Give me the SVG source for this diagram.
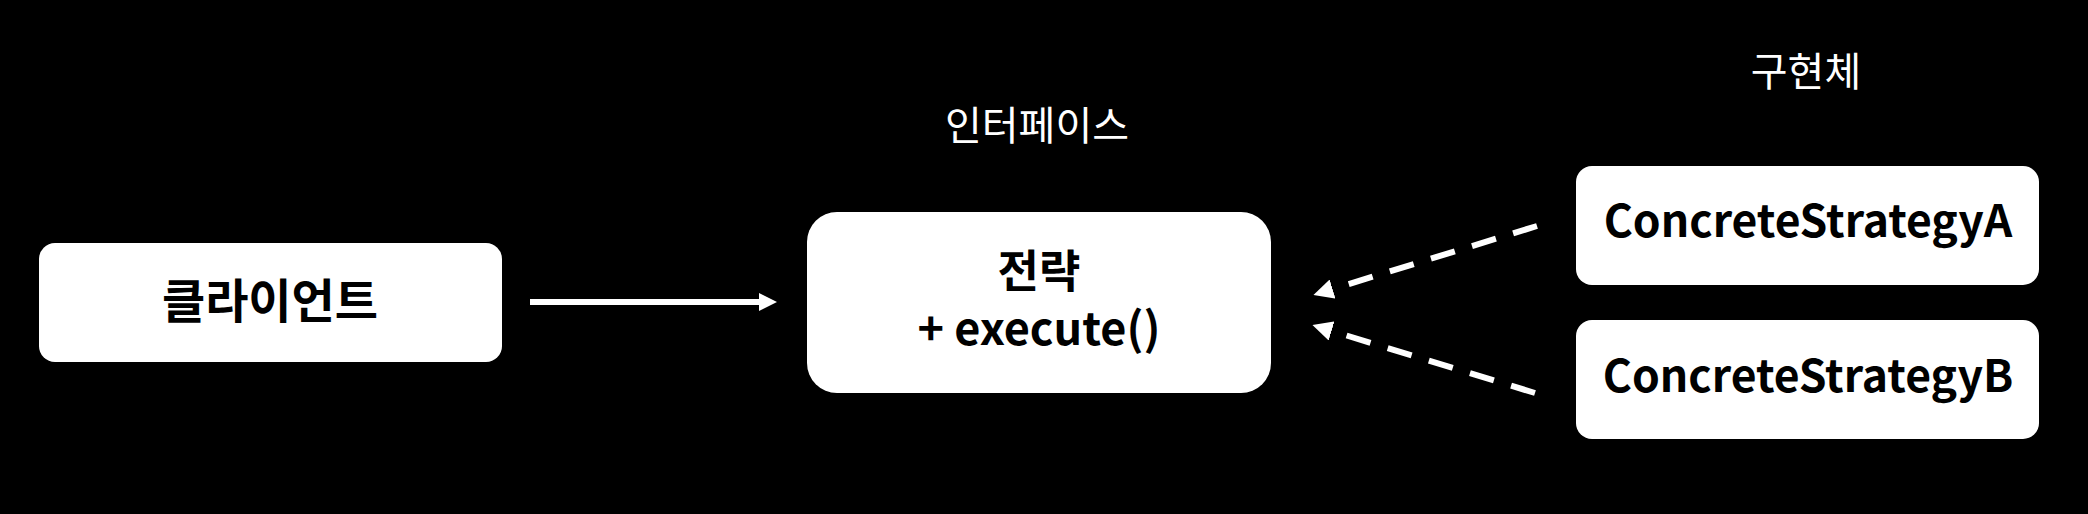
<svg xmlns="http://www.w3.org/2000/svg" width="2088" height="514" viewBox="0 0 2088 514">
<defs>
<style>
.box{fill:#ffffff;}
.t{font-family:"Noto Sans CJK KR","Noto Sans",sans-serif;font-weight:bold;fill:#000000;text-anchor:middle;}
.lbl{font-family:"Noto Sans CJK KR","Noto Sans",sans-serif;font-weight:normal;fill:#ffffff;text-anchor:middle;font-size:40px;}
.solid{stroke:#ffffff;stroke-width:6;fill:none;}
.dash{stroke:#ffffff;stroke-width:6;fill:none;stroke-dasharray:25 18;}
</style>
<marker id="ah2" markerWidth="20" markerHeight="20" refX="10" refY="10" orient="auto" markerUnits="userSpaceOnUse" viewBox="0 0 20 20">
<path d="M0,0 L20,10 L0,20 Z" fill="#ffffff"/>
</marker>
</defs>
<rect width="2088" height="514" fill="#000000"/>
<g id="labels">
<text class="lbl" x="1037" y="140">인터페이스</text>
<text class="lbl" x="1806" y="86">구현체</text>
</g>
<g id="client">
<rect class="box" x="39" y="243" width="463" height="119" rx="16"/>
<text class="t" x="270" y="318" font-size="47">클라이언트</text>
</g>
<g id="strategy">
<rect class="box" x="807" y="212" width="464" height="181" rx="30"/>
<text class="t" x="1039" y="288" font-size="45">전략</text>
<text class="t" x="1039" y="345" font-size="45">+ execute()</text>
</g>
<g id="concreteA">
<rect class="box" x="1576" y="166" width="463" height="119" rx="16"/>
<text class="t" x="1808" y="237" font-size="44.5">ConcreteStrategyA</text>
</g>
<g id="concreteB">
<rect class="box" x="1576" y="320" width="463" height="119" rx="16"/>
<text class="t" x="1808" y="392" font-size="44.5">ConcreteStrategyB</text>
</g>
<g id="connectors">
<line class="solid" x1="530" y1="302" x2="760" y2="302"/>
<path d="M759,293 L777,302 L759,311 Z" fill="#ffffff"/>
<line class="dash" x1="1537" y1="226" x2="1323" y2="292" marker-end="url(#ah2)"/>
<line class="dash" x1="1535" y1="393" x2="1322" y2="328" marker-end="url(#ah2)"/>
</g>
</svg>
